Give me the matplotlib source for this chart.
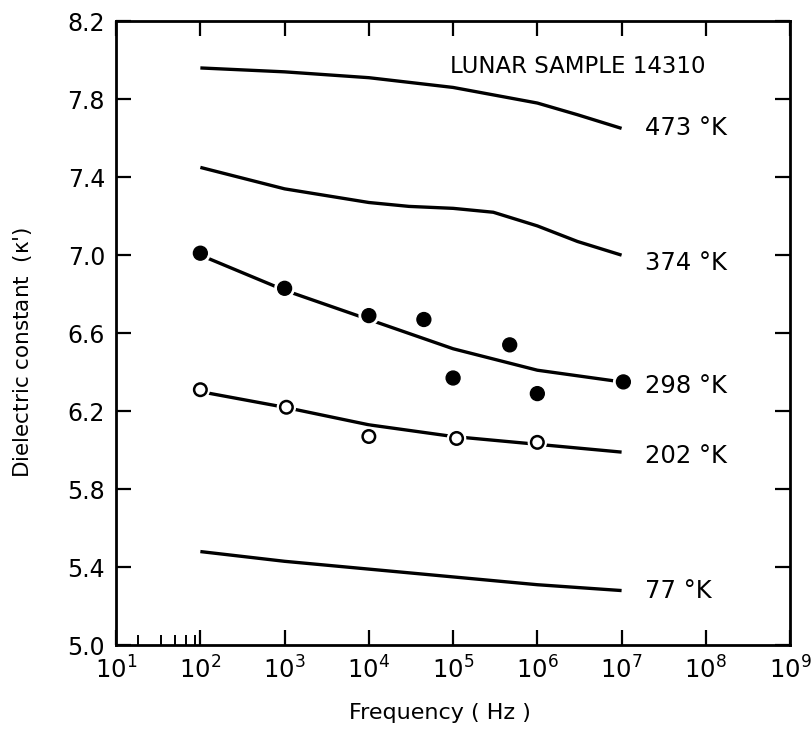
import math
import matplotlib.pyplot as plt
import matplotlib.patheffects as pe
from matplotlib.ticker import FixedLocator, FuncFormatter

plt.rcParams['font.family'] = 'DejaVu Sans'
plt.rcParams['mathtext.default'] = 'regular'

# smooth curves (frequency in Hz, dielectric constant)
f_473 = [1e2, 1e3, 1e4, 1e5, 1e6, 3e6, 1e7]
k_473 = [7.96, 7.94, 7.91, 7.86, 7.78, 7.72, 7.65]

f_374 = [1e2, 1e3, 1e4, 3e4, 1e5, 3e5, 1e6, 3e6, 1e7]
k_374 = [7.45, 7.34, 7.27, 7.25, 7.24, 7.22, 7.15, 7.07, 7.0]

f_298 = [1e2, 1e3, 1e4, 1e5, 1e6, 1e7]
k_298 = [7.0, 6.82, 6.67, 6.52, 6.41, 6.35]

f_202 = [1e2, 1e3, 1e4, 1e5, 1e6, 1e7]
k_202 = [6.30, 6.22, 6.13, 6.07, 6.03, 5.99]

f_77 = [1e2, 1e3, 1e4, 1e5, 1e6, 1e7]
k_77 = [5.48, 5.43, 5.39, 5.35, 5.31, 5.28]

# measured points
pts_298_f = [1e2, 1e3, 1e4, 4.5e4, 1e5, 4.7e5, 1e6, 1.05e7]
pts_298_k = [7.01, 6.83, 6.69, 6.67, 6.37, 6.54, 6.29, 6.35]
pts_202_f = [1e2, 1.05e3, 1e4, 1.1e5, 1e6]
pts_202_k = [6.31, 6.22, 6.07, 6.06, 6.04]

temps = ['473 °K', '374 °K', '298 °K', '202 °K', '77 °K']
temp_y = [7.65, 6.96, 6.33, 5.97, 5.28]

fig = plt.figure(figsize=(8.12, 7.29), dpi=100)
ax = fig.add_axes([0.143, 0.115, 0.83, 0.856])

lw = 2.4
for f, k in [(f_473, k_473), (f_374, k_374), (f_298, k_298),
             (f_202, k_202), (f_77, k_77)]:
    ax.plot(f, k, color='black', lw=lw, solid_capstyle='butt')

halo = [pe.withStroke(linewidth=5, foreground='white')]
ax.plot(pts_298_f, pts_298_k, 'o', color='black', ms=10, zorder=3,
        path_effects=halo)
ax.plot(pts_202_f, pts_202_k, 'o', mfc='white', mec='black', mew=1.8,
        ms=9, zorder=3, path_effects=halo)

for t, y in zip(temps, temp_y):
    ax.text(1.9e7, y, t, fontsize=17.5, va='center', ha='left')

ax.text(3e6, 7.965, 'LUNAR SAMPLE 14310', fontsize=16.5, va='center',
        ha='center')

ax.set_xscale('log')
ax.set_xlim(1e1, 1e9)
ax.set_ylim(5.0, 8.2)

ax.xaxis.set_major_locator(FixedLocator([10.0 ** e for e in range(1, 10)]))
ax.xaxis.set_minor_locator(FixedLocator([18, 34, 50, 68, 86]))
ax.xaxis.set_major_formatter(FuncFormatter(
    lambda v, p: '$10^{%d}$' % round(math.log10(v))))
ax.xaxis.set_minor_formatter(FuncFormatter(lambda v, p: ''))
ax.set_yticks([5.0, 5.4, 5.8, 6.2, 6.6, 7.0, 7.4, 7.8, 8.2])
ax.yaxis.set_major_formatter(FuncFormatter(lambda v, p: '%.1f' % v))

ax.tick_params(axis='both', which='major', direction='in', length=11,
               width=1.6, labelsize=17, top=True, right=True, pad=8)
ax.tick_params(axis='x', which='minor', direction='in', length=7,
               width=1.4, top=False)
ax.tick_params(axis='x', labelsize=17.5)
for s in ax.spines.values():
    s.set_linewidth(2)

ax.set_xlabel('Frequency ( Hz )', fontsize=16, va='center')
ax.xaxis.set_label_coords(0.48, -0.108)
ax.set_ylabel("Dielectric constant  ($\\kappa$')", fontsize=15.5,
              va='center')
ax.yaxis.set_label_coords(-0.139, 0.47)

fig.savefig('out.png', dpi=100)
